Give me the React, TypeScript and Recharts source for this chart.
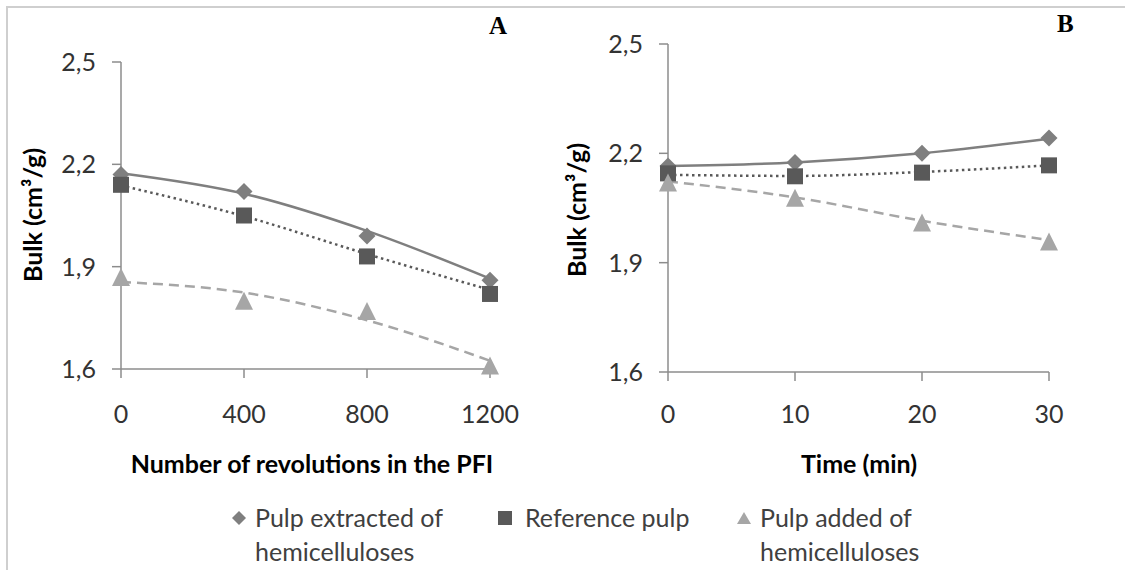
import React from 'react';
import { LineChart, Line, XAxis, YAxis } from 'recharts';

// panel A: refining in the PFI
const revolutions = [0, 400, 800, 1200];
const extractedA = [2.17, 2.12, 1.99, 1.86];
const referenceA = [2.14, 2.05, 1.93, 1.82];
const addedA = [1.87, 1.8, 1.77, 1.61];
// trendlines as drawn in the picture
const extractedTrendA = [2.174, 2.114, 2.005, 1.865];
const referenceTrendA = [2.138, 2.048, 1.937, 1.832];
const addedTrendA = [1.855, 1.824, 1.743, 1.624];

// panel B: time
const times = [0, 10, 20, 30];
const extractedB = [2.165, 2.175, 2.2, 2.242];
const referenceB = [2.145, 2.137, 2.147, 2.167];
const addedB = [2.12, 2.078, 2.01, 1.958];
const extractedTrendB = [2.165, 2.175, 2.2, 2.24];
const referenceTrendB = [2.141, 2.138, 2.149, 2.167];
const addedTrendB = [2.123, 2.079, 2.015, 1.962];

const yTicks = [1.6, 1.9, 2.2, 2.5];
const legendNames = ['Pulp extracted of\nhemicelluloses', 'Reference pulp', 'Pulp added of\nhemicelluloses'];

const FONT = 'Lato, "Open Sans", sans-serif';
const AXIS = '#8c8c8c';
const C_EXT = '#7f7f7f';
const C_REF = '#595959';
const C_ADD = '#a6a6a6';

const rows = (xs: number[], e: number[], r: number[], a: number[], et: number[], rt: number[], at: number[]) =>
  xs.map((x, i) => ({ x, ext: e[i], ref: r[i], add: a[i], extT: et[i], refT: rt[i], addT: at[i] }));

const dataA = rows(revolutions, extractedA, referenceA, addedA, extractedTrendA, referenceTrendA, addedTrendA);
const dataB = rows(times, extractedB, referenceB, addedB, extractedTrendB, referenceTrendB, addedTrendB);

const diamond = (p: any) => {
  if (p.cx == null) return null;
  const r = 8.5;
  return <polygon key={p.index} points={`${p.cx},${p.cy - r} ${p.cx + r},${p.cy} ${p.cx},${p.cy + r} ${p.cx - r},${p.cy}`} fill={C_EXT} />;
};
const square = (p: any) => {
  if (p.cx == null) return null;
  const s = 8;
  return <rect key={p.index} x={p.cx - s} y={p.cy - s} width={s * 2} height={s * 2} fill={C_REF} />;
};
const triangle = (p: any) => {
  if (p.cx == null) return null;
  const h = 9;
  return <polygon key={p.index} points={`${p.cx},${p.cy - h} ${p.cx + h},${p.cy + h} ${p.cx - h},${p.cy + h}`} fill={C_ADD} />;
};

const fmt = (v: number) => v.toFixed(1).replace('.', ',');

interface PanelProps {
  data: any[];
  xs: number[];
  width: number;
  yWidth: number;
  right: number;
  top: number;
  bottom: number;
  xTickMargin: number;
}

const Panel: React.FC<PanelProps> = ({ data, xs, width, yWidth, right, top, bottom, xTickMargin }) => (
  <LineChart width={width} height={570} data={data} margin={{ top, right, left: 0, bottom }}>
    <XAxis
      dataKey="x"
      type="number"
      domain={[xs[0], xs[xs.length - 1]]}
      ticks={xs}
      interval={0}
      height={60}
      axisLine={{ stroke: AXIS, strokeWidth: 1.5 }}
      tickLine={{ stroke: AXIS, strokeWidth: 1.5 }}
      tickSize={9}
      tickMargin={xTickMargin}
      tick={{ fill: '#333', fontSize: 25, fontFamily: FONT }}
    />
    <YAxis
      type="number"
      domain={[1.6, 2.5]}
      ticks={yTicks}
      interval={0}
      width={yWidth}
      tickFormatter={fmt}
      axisLine={{ stroke: AXIS, strokeWidth: 1.5 }}
      tickLine={{ stroke: AXIS, strokeWidth: 1.5 }}
      tickSize={9}
      tickMargin={16}
      tick={{ fill: '#333', fontSize: 25, fontFamily: FONT }}
    />
    <Line dataKey="extT" type="monotone" stroke={C_EXT} strokeWidth={2.5} dot={false} activeDot={false} isAnimationActive={false} />
    <Line dataKey="refT" type="monotone" stroke={C_REF} strokeWidth={2.5} strokeDasharray="2.5 3.5" dot={false} activeDot={false} isAnimationActive={false} />
    <Line dataKey="addT" type="monotone" stroke={C_ADD} strokeWidth={2.5} strokeDasharray="10 6" dot={false} activeDot={false} isAnimationActive={false} />
    <Line dataKey="ext" stroke="none" dot={diamond} activeDot={false} isAnimationActive={false} />
    <Line dataKey="ref" stroke="none" dot={square} activeDot={false} isAnimationActive={false} />
    <Line dataKey="add" stroke="none" dot={triangle} activeDot={false} isAnimationActive={false} />
  </LineChart>
);

const abs = (left: number, top: number): React.CSSProperties => ({ position: 'absolute', left, top });

const axisTitle: React.CSSProperties = { fontFamily: FONT, fontWeight: 700, fontSize: 25, color: '#000', whiteSpace: 'nowrap' };

const LegendIcon: React.FC<{ kind: number }> = ({ kind }) => (
  <svg width={16} height={16} style={{ display: 'block' }}>
    {kind === 0 && <polygon points="8,1 15,8 8,15 1,8" fill={C_EXT} />}
    {kind === 1 && <rect x={1} y={1} width={14} height={14} fill={C_REF} />}
    {kind === 2 && <polygon points="8,2 15,14 1,14" fill={C_ADD} />}
  </svg>
);

const legendPos = [
  { icon: 231, text: 255 },
  { icon: 497, text: 525 },
  { icon: 736, text: 760 },
];

export default function App() {
  return (
    <div style={{ position: 'relative', width: 1125, height: 570, background: '#fff', overflow: 'hidden' }}>
      <style>{'body{margin:0}'}</style>
      <div style={{ position: 'absolute', left: 6, top: 6, width: 1125, height: 570, borderTop: '2px solid #cfcfcf', borderLeft: '2px solid #cfcfcf' }} />

      <div style={abs(0, 0)}>
        <Panel data={dataA} xs={revolutions} width={560} yWidth={121} right={70} top={62} bottom={141} xTickMargin={27} />
      </div>
      <div style={abs(560, 0)}>
        <Panel data={dataB} xs={times} width={565} yWidth={108} right={76} top={44} bottom={138} xTickMargin={24} />
      </div>

      {/* panel letters */}
      <div style={{ ...abs(489, 12), fontFamily: '"Liberation Serif", serif', fontWeight: 700, fontSize: 25 }}>A</div>
      <div style={{ ...abs(1057, 10), fontFamily: '"Liberation Serif", serif', fontWeight: 700, fontSize: 25 }}>B</div>

      {/* axis titles */}
      <div style={{ ...abs(312, 463), ...axisTitle, transform: 'translate(-50%,-50%)' }}>Number of revolutions in the PFI</div>
      <div style={{ ...abs(859, 463), ...axisTitle, transform: 'translate(-50%,-50%)' }}>Time (min)</div>
      <div style={{ ...abs(32, 215), ...axisTitle, transform: 'translate(-50%,-50%) rotate(-90deg)' }}>Bulk (cm³/g)</div>
      <div style={{ ...abs(576, 210), ...axisTitle, transform: 'translate(-50%,-50%) rotate(-90deg)' }}>Bulk (cm³/g)</div>

      {/* legend */}
      {legendNames.map((name, i) => (
        <React.Fragment key={i}>
          <div style={abs(legendPos[i].icon, 510)}>
            <LegendIcon kind={i} />
          </div>
          <div style={{ ...abs(legendPos[i].text, 500), fontFamily: FONT, fontSize: 25, color: '#404040', lineHeight: '34px', whiteSpace: 'pre' }}>
            {name}
          </div>
        </React.Fragment>
      ))}
    </div>
  );
}
